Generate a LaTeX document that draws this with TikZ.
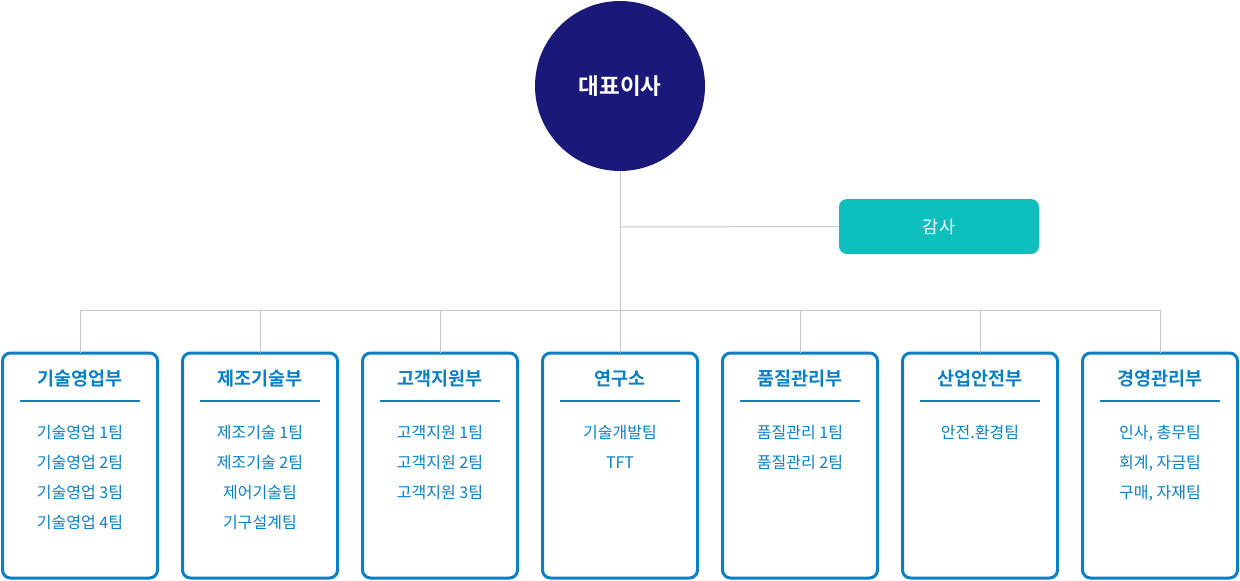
\documentclass[tikz,border=0pt]{standalone}
\usepackage{fontspec}
\setmainfont{Noto Sans CJK KR}[BoldFont={Noto Sans CJK KR Bold}]
\usepackage{tikz}
\usetikzlibrary{calc,positioning}

\definecolor{ceonavy}{HTML}{1A1878}
\definecolor{auditteal}{HTML}{0DBFBD}
\definecolor{deptblue}{HTML}{0A7FC4}
\definecolor{linkgray}{HTML}{C8C8C8}

\newcommand{\fsz}[1]{\fontsize{#1}{#1}\selectfont}

\begin{document}
\begin{tikzpicture}[x=1pt,y=-1pt]

\tikzset{
  ceo/.style={circle, fill=ceonavy, text=white, minimum size=170pt,
              inner sep=0pt, font=\fsz{22.5}\bfseries},
  auditbox/.style={rectangle, rounded corners=8pt, fill=auditteal, text=white,
              minimum width=200pt, minimum height=55pt, inner sep=0pt, font=\fsz{17.5}},
  deptbox/.style={rectangle, rounded corners=8pt, draw=deptblue, line width=3pt,
              minimum width=155pt, minimum height=225pt, inner sep=0pt},
  depttitle/.style={text=deptblue, font=\fsz{18.5}\bfseries, inner sep=0pt},
  deptrule/.style={deptblue, line width=2pt},
  teamlist/.style={text=deptblue, align=center, inner sep=0pt,
              font=\fontsize{16}{30}\selectfont},
  link/.style={linkgray, line width=1pt}
}

\newcommand{\dept}[4]{
  \node[deptbox] (#1) at (#2,465.5) {};
  \node[depttitle] (#1t) at (#2,379) {#3};
  \draw[deptrule] ($(#2,401)+(-60,0)$) -- ($(#2,401)+(60,0)$);
  \node[teamlist, anchor=north] (#1l) at (#2,425) {#4};
}

\useasboundingbox (0,0) rectangle (1240,581);

% CEO and audit
\node[ceo] (rep) at (620,86) {대표이사};
\node[auditbox] (audit) at (939,226.5) {감사};
\coordinate (auditjoin) at (620,227);
\coordinate (hub) at (620,310);

% Departments
\dept{d1}{80}{기술영업부}{기술영업 1팀\\기술영업 2팀\\기술영업 3팀\\기술영업 4팀}
\dept{d2}{260}{제조기술부}{제조기술 1팀\\제조기술 2팀\\제어기술팀\\기구설계팀}
\dept{d3}{440}{고객지원부}{고객지원 1팀\\고객지원 2팀\\고객지원 3팀}
\dept{d4}{620}{연구소}{기술개발팀\\TFT}
\dept{d5}{800}{품질관리부}{품질관리 1팀\\품질관리 2팀}
\dept{d6}{980}{산업안전부}{안전.환경팀}
\dept{d7}{1160}{경영관리부}{인사, 총무팀\\회계, 자금팀\\구매, 자재팀}

% Lines
\draw[link] (rep.south) -- (hub);
\draw[link] (auditjoin) -- (audit.west);
\draw[link] (d1.north |- hub) -- (d7.north |- hub);
\foreach \d in {d1,d2,d3,d4,d5,d6,d7}
  \draw[link] (\d.north |- hub) -- ([yshift=-1.5pt]\d.north);

\end{tikzpicture}
\end{document}
